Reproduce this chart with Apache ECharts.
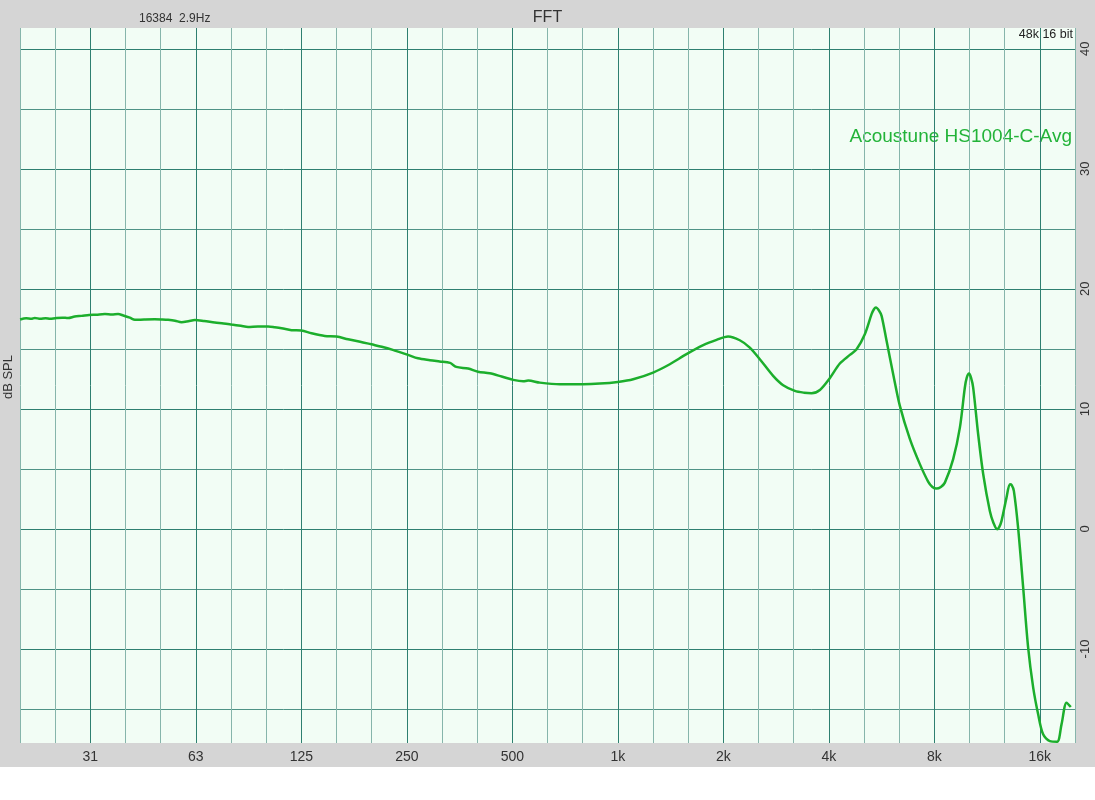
<!DOCTYPE html>
<html>
<head>
<meta charset="utf-8">
<script src="https://cdn.jsdelivr.net/npm/echarts@6/dist/echarts.min.js"></script>
<style>
  html, body { margin:0; padding:0; background:#ffffff; }
  #chart { width:1095px; height:800px; background: linear-gradient(to bottom, #d5d5d5 0px, #d5d5d5 767px, #ffffff 767px, #ffffff 800px); }
</style>
</head>
<body>
<div id="chart"></div>
<script>
// ---- data ----
const freqHz = [19.7, 20.5, 21.2, 21.7, 22.5, 23.3, 24.0, 24.8, 26.0, 27.0, 28.2, 29.5, 31.0, 32.5, 34.4, 36.0, 37.5, 38.8, 40.5, 41.9,
  44.5, 47.7, 50.0, 52.1, 54.5, 56.9, 59.5, 62.1, 66.0, 70.8, 75.0, 79.0, 84.0, 88.1, 94.0, 100.5, 105.0, 109.8, 117.2, 125,
  133.7, 145.8, 157.5, 170, 184, 198, 212, 228, 252, 269, 291, 310, 332, 346, 374, 399, 431, 466, 503, 537, 555, 599, 683, 796, 888,
  1000, 1106, 1261, 1407, 1570, 1752, 1913, 2063, 2228, 2380, 2542, 2774, 2963, 3200, 3400, 3570, 3772, 4025, 4300, 4593, 4800,
  5067, 5297, 5380, 5450, 5560, 5657, 5845, 6105, 6379, 6811, 7274, 7680, 7900, 8117, 8350, 8574, 9050, 9462, 9776, 9900, 10050, 10180,
  10326, 10670, 11030, 11520, 11800, 12088, 12250, 12441, 12853, 13142, 13300, 13490, 13870, 14342, 14818, 15317, 15825, 16350,
  17090, 17930, 18450, 19070, 19610];
const splDb = [17.45, 17.56, 17.5, 17.58, 17.5, 17.56, 17.5, 17.55, 17.6, 17.57, 17.7, 17.75, 17.82, 17.85, 17.9, 17.87, 17.9, 17.78, 17.6, 17.42,
  17.45, 17.47, 17.45, 17.42, 17.35, 17.22, 17.3, 17.4, 17.32, 17.2, 17.12, 17.03, 16.92, 16.82, 16.86, 16.86, 16.8, 16.72, 16.56, 16.53,
  16.3, 16.08, 16.03, 15.8, 15.6, 15.38, 15.18, 14.92, 14.5, 14.22, 14.06, 13.95, 13.83, 13.5, 13.36, 13.1, 12.97, 12.7, 12.42, 12.3, 12.36, 12.19, 12.06, 12.06, 12.11,
  12.25, 12.47, 13.03, 13.72, 14.56, 15.31, 15.75, 16.03, 15.72, 15.11, 14.14, 12.75, 11.97, 11.5, 11.35, 11.31, 11.58, 12.56, 13.78, 14.5, 14.97,
  16.22, 17.89, 18.3, 18.45, 18.2, 17.75, 15.67, 12.89, 10.25, 7.5, 5.4, 3.95, 3.5, 3.36, 3.5, 3.86, 5.8, 8.44, 11.78, 12.6, 12.94, 12.6,
  11.78, 7.89, 4.56, 1.5, 0.5, -0.03, 0.15, 0.67, 2.61, 3.72, 3.65, 3.17, 0.11, -4.89, -9.89, -13.22, -15.44, -17.11,
  -17.67, -17.72, -16.28, -14.47, -14.83];
const xTickLabels = ['31', '63', '125', '250', '500', '1k', '2k', '4k', '8k', '16k'];
const yTickValues = [-15, -10, -5, 0, 5, 10, 15, 20, 25, 30, 35, 40];
const yLabelValues = [-10, 0, 10, 20, 30, 40];
const seriesName = 'Acoustune HS1004-C-Avg';

// ---- chart ----
const FONT = "'Liberation Sans', Arial, sans-serif";
const chart = echarts.init(document.getElementById('chart'), null, { renderer: 'canvas' });
// x in third-octave units relative to 1 kHz (log frequency scale)
const lineData = freqHz.map((f, i) => [3 * Math.log2(f / 1000), splDb[i]]);

const option = {
  animation: false,
  backgroundColor: 'transparent',
  textStyle: { fontFamily: FONT },
  title: {
    text: 'FFT', left: 'center', top: 5,
    textStyle: { fontSize: 16, fontWeight: 'normal', color: '#333', fontFamily: FONT }
  },
  grid: { left: 20, right: 20, top: 28, bottom: 57, show: true, backgroundColor: '#f2fdf5', borderWidth: 0 },
  xAxis: {
    type: 'value', min: -17, max: 13, interval: 1,
    axisLine: { show: false }, axisTick: { show: false },
    axisLabel: {
      fontSize: 14, color: '#333', margin: 7, fontFamily: FONT,
      formatter: function (v) {
        const r = Math.round(v);
        if (r % 3 !== 0) return '';
        const idx = (r + 15) / 3;
        return (idx >= 0 && idx < xTickLabels.length) ? xTickLabels[idx] : '';
      }
    },
    splitLine: { show: true, lineStyle: { color: ['#86b5ab', '#86b5ab', '#2e7f70'], width: 1 } }
  },
  yAxis: {
    type: 'value', position: 'right', min: -17.83, max: 41.73,
    axisLine: { show: false },
    axisTick: { show: false, customValues: yTickValues },
    axisLabel: { customValues: yLabelValues, rotate: 90, fontSize: 13, color: '#333', margin: 4, fontFamily: FONT },
    splitLine: { show: true, lineStyle: { color: ['#4f9386', '#2e7f70'], width: 1 } }
  },
  graphic: [
    { type: 'text', left: 139, top: 13, style: { text: '16384  2.9Hz', fill: '#333', font: '12px ' + FONT } },
    { type: 'text', right: 22, top: 28, style: { text: '48k 16 bit', fill: '#222', font: '12.5px ' + FONT } },
    { type: 'text', right: 23, top: 127, style: { text: seriesName, fill: '#22b338', font: '19px ' + FONT } },
    { type: 'text', left: 2, top: 355, rotation: Math.PI / 2, style: { text: 'dB SPL', fill: '#333', font: '13px ' + FONT } }
  ],
  series: [{
    name: seriesName, type: 'line', data: lineData, showSymbol: false, smooth: 0.3,
    lineStyle: { color: '#1cae2c', width: 2.5 }
  }]
};
chart.setOption(option);
</script>
</body>
</html>
